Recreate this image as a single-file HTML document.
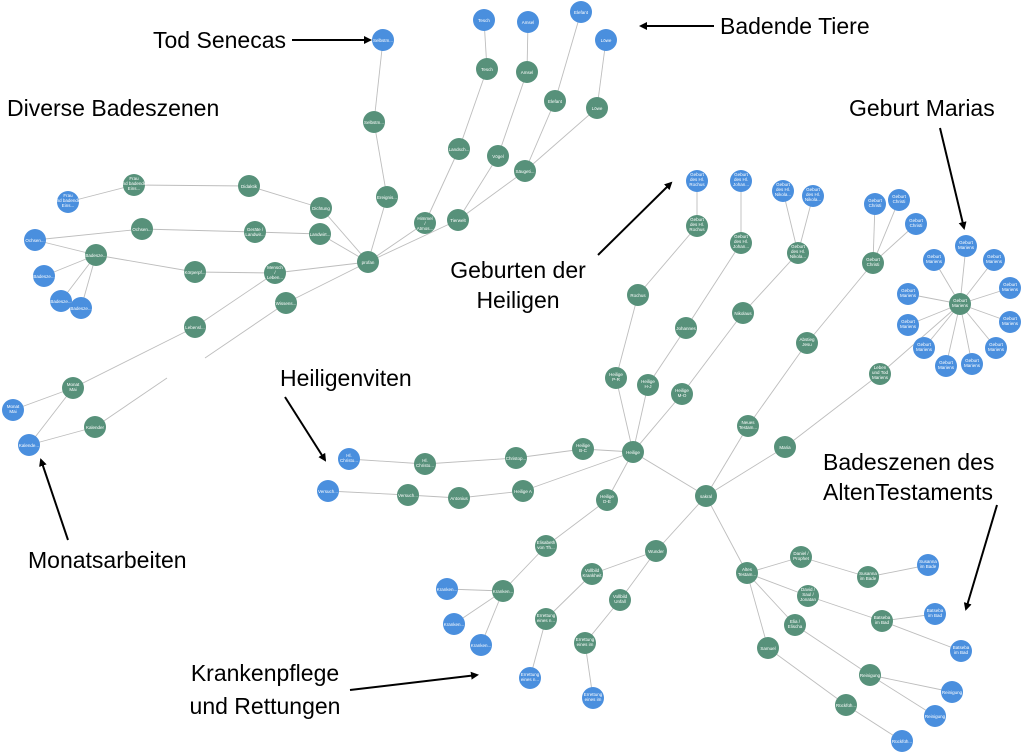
<!DOCTYPE html>
<html><head><meta charset="utf-8"><style>
html,body{margin:0;padding:0;background:#fff;width:1024px;height:753px;overflow:hidden}
svg{display:block}
.e line{stroke:#bdbdbd;stroke-width:0.9}
.g{fill:#57917a}.b{fill:#4a8fde}
.n text{font-family:"Liberation Sans",sans-serif;font-size:4.5px;fill:#fff;text-anchor:middle}
.a text{font-family:"Liberation Sans",sans-serif;font-size:23px;fill:#000}
.a line{stroke:#000;stroke-width:2;marker-end:url(#ah)}
</style></head><body>
<svg width="1024" height="753" viewBox="0 0 1024 753" xmlns="http://www.w3.org/2000/svg">
<defs><marker id="ah" markerWidth="8" markerHeight="8" refX="6" refY="4" orient="auto" markerUnits="userSpaceOnUse"><path d="M0,0 L8,4 L0,8 Z" fill="#000"/></marker></defs>
<g class="e">
<line x1="383" y1="40" x2="374" y2="122"/><line x1="374" y1="122" x2="387" y2="197"/><line x1="387" y1="197" x2="368" y2="262"/>
<line x1="484" y1="20" x2="487" y2="69"/><line x1="487" y1="69" x2="459" y2="149"/><line x1="459" y1="149" x2="425" y2="223"/><line x1="425" y1="223" x2="368" y2="262"/>
<line x1="528" y1="22" x2="527" y2="72"/><line x1="527" y1="72" x2="498" y2="156"/><line x1="498" y1="156" x2="458" y2="220"/>
<line x1="581" y1="12" x2="555" y2="101"/><line x1="555" y1="101" x2="525" y2="171"/><line x1="606" y1="40" x2="597" y2="108"/><line x1="597" y1="108" x2="525" y2="171"/>
<line x1="525" y1="171" x2="458" y2="220"/><line x1="458" y1="220" x2="368" y2="262"/>
<line x1="321" y1="208" x2="368" y2="262"/><line x1="320" y1="234" x2="368" y2="262"/><line x1="275" y1="273" x2="368" y2="262"/><line x1="286" y1="303" x2="368" y2="262"/>
<line x1="321" y1="208" x2="249" y2="186"/><line x1="249" y1="186" x2="134" y2="185"/><line x1="134" y1="185" x2="68" y2="202"/>
<line x1="320" y1="234" x2="255" y2="232"/><line x1="255" y1="232" x2="142" y2="229"/><line x1="142" y1="229" x2="35" y2="240"/><line x1="35" y1="240" x2="96" y2="255"/>
<line x1="96" y1="255" x2="195" y2="272"/><line x1="195" y1="272" x2="275" y2="273"/>
<line x1="96" y1="255" x2="44" y2="276"/><line x1="96" y1="255" x2="61" y2="301"/><line x1="96" y1="255" x2="81" y2="308"/>
<line x1="275" y1="273" x2="195" y2="327"/><line x1="195" y1="327" x2="73" y2="388"/><line x1="73" y1="388" x2="13" y2="410"/><line x1="73" y1="388" x2="29" y2="445"/>
<line x1="29" y1="445" x2="95" y2="427"/><line x1="95" y1="427" x2="167" y2="378"/><line x1="286" y1="303" x2="205" y2="358"/>
<line x1="349" y1="459" x2="425" y2="464"/><line x1="425" y1="464" x2="516" y2="458"/><line x1="516" y1="458" x2="583" y2="449"/><line x1="583" y1="449" x2="633" y2="452"/>
<line x1="328" y1="491" x2="408" y2="495"/><line x1="408" y1="495" x2="459" y2="498"/><line x1="459" y1="498" x2="523" y2="491"/><line x1="523" y1="491" x2="633" y2="452"/>
<line x1="607" y1="500" x2="633" y2="452"/><line x1="616" y1="378" x2="633" y2="452"/><line x1="648" y1="385" x2="633" y2="452"/><line x1="682" y1="394" x2="633" y2="452"/>
<line x1="633" y1="452" x2="706" y2="496"/>
<line x1="616" y1="378" x2="638" y2="295"/><line x1="638" y1="295" x2="697" y2="226"/><line x1="697" y1="226" x2="697" y2="181"/>
<line x1="648" y1="385" x2="686" y2="328"/><line x1="686" y1="328" x2="741" y2="243"/><line x1="741" y1="243" x2="741" y2="181"/>
<line x1="682" y1="394" x2="743" y2="313"/><line x1="743" y1="313" x2="798" y2="253"/><line x1="798" y1="253" x2="783" y2="191"/><line x1="798" y1="253" x2="813" y2="196"/>
<line x1="706" y1="496" x2="748" y2="426"/><line x1="748" y1="426" x2="807" y2="343"/><line x1="807" y1="343" x2="873" y2="263"/><line x1="873" y1="263" x2="875" y2="204"/><line x1="873" y1="263" x2="899" y2="200"/><line x1="873" y1="263" x2="916" y2="224"/>
<line x1="706" y1="496" x2="785" y2="447"/><line x1="785" y1="447" x2="880" y2="374"/><line x1="880" y1="374" x2="960" y2="304"/>
<line x1="960" y1="304" x2="966" y2="246"/><line x1="960" y1="304" x2="994" y2="260"/><line x1="960" y1="304" x2="1010" y2="288"/><line x1="960" y1="304" x2="1010" y2="322"/><line x1="960" y1="304" x2="996" y2="348"/><line x1="960" y1="304" x2="972" y2="364"/><line x1="960" y1="304" x2="946" y2="366"/><line x1="960" y1="304" x2="924" y2="348"/><line x1="960" y1="304" x2="908" y2="325"/><line x1="960" y1="304" x2="908" y2="294"/><line x1="960" y1="304" x2="934" y2="260"/>
<line x1="607" y1="500" x2="546" y2="546"/><line x1="546" y1="546" x2="503" y2="591"/><line x1="503" y1="591" x2="447" y2="589"/><line x1="503" y1="591" x2="454" y2="624"/><line x1="503" y1="591" x2="481" y2="645"/>
<line x1="706" y1="496" x2="656" y2="551"/><line x1="656" y1="551" x2="592" y2="574"/><line x1="592" y1="574" x2="546" y2="619"/><line x1="546" y1="619" x2="530" y2="678"/>
<line x1="656" y1="551" x2="620" y2="600"/><line x1="620" y1="600" x2="585" y2="643"/><line x1="585" y1="643" x2="593" y2="698"/>
<line x1="706" y1="496" x2="747" y2="573"/>
<line x1="747" y1="573" x2="801" y2="557"/><line x1="801" y1="557" x2="868" y2="577"/><line x1="868" y1="577" x2="928" y2="565"/>
<line x1="747" y1="573" x2="808" y2="596"/><line x1="808" y1="596" x2="882" y2="621"/><line x1="882" y1="621" x2="935" y2="614"/><line x1="882" y1="621" x2="961" y2="651"/>
<line x1="747" y1="573" x2="795" y2="625"/><line x1="795" y1="625" x2="870" y2="675"/><line x1="870" y1="675" x2="952" y2="692"/><line x1="870" y1="675" x2="935" y2="716"/>
<line x1="747" y1="573" x2="768" y2="648"/><line x1="768" y1="648" x2="846" y2="705"/><line x1="846" y1="705" x2="902" y2="741"/>
</g>
<g class="n">
<circle class="b" cx="383" cy="40" r="11"/><text x="383" y="42">Selbstm...</text>
<circle class="g" cx="374" cy="122" r="11"/><text x="374" y="124">Selbstm...</text>
<circle class="g" cx="387" cy="197" r="11"/><text x="387" y="199">Ereignis...</text>
<circle class="b" cx="484" cy="20" r="11"/><text x="484" y="22">Tesch</text>
<circle class="g" cx="487" cy="69" r="11"/><text x="487" y="71">Tesch</text>
<circle class="b" cx="528" cy="22" r="11"/><text x="528" y="24">Amsel</text>
<circle class="g" cx="527" cy="72" r="11"/><text x="527" y="74">Amsel</text>
<circle class="b" cx="581" cy="12" r="11"/><text x="581" y="14">Elefant</text>
<circle class="g" cx="555" cy="101" r="11"/><text x="555" y="103">Elefant</text>
<circle class="b" cx="606" cy="40" r="11"/><text x="606" y="42">Löwe</text>
<circle class="g" cx="597" cy="108" r="11"/><text x="597" y="110">Löwe</text>
<circle class="g" cx="459" cy="149" r="11"/><text x="459" y="151">Landsch...</text>
<circle class="g" cx="498" cy="156" r="11"/><text x="498" y="158">Vögel</text>
<circle class="g" cx="525" cy="171" r="11"/><text x="525" y="173">Säugeti...</text>
<circle class="g" cx="458" cy="220" r="11"/><text x="458" y="222">Tierwelt</text>
<circle class="g" cx="425" cy="223" r="11"/><text x="425" y="220">Himmel</text><text x="425" y="225">/</text><text x="425" y="230">Atmos...</text>
<circle class="g" cx="368" cy="262" r="11"/><text x="368" y="264">profan</text>
<circle class="g" cx="321" cy="208" r="11"/><text x="321" y="210">Dichtung</text>
<circle class="g" cx="320" cy="234" r="11"/><text x="320" y="236">Landwirt...</text>
<circle class="g" cx="249" cy="186" r="11"/><text x="249" y="188">Didaktik</text>
<circle class="g" cx="134" cy="185" r="11"/><text x="134" y="180">Frau</text><text x="134" y="185">und badender</text><text x="134" y="190">Eins...</text>
<circle class="b" cx="68" cy="202" r="11"/><text x="68" y="197">Frau</text><text x="68" y="202">und badender</text><text x="68" y="207">Eins...</text>
<circle class="g" cx="142" cy="229" r="11"/><text x="142" y="231">Ochsen...</text>
<circle class="g" cx="255" cy="232" r="11"/><text x="255" y="231">Geräte /</text><text x="255" y="236">Landwir...</text>
<circle class="b" cx="35" cy="240" r="11"/><text x="35" y="242">Ochsen...</text>
<circle class="g" cx="96" cy="255" r="11"/><text x="96" y="257">Badesze...</text>
<circle class="b" cx="44" cy="276" r="11"/><text x="44" y="278">Badesze...</text>
<circle class="b" cx="61" cy="301" r="11"/><text x="61" y="303">Badesze...</text>
<circle class="b" cx="81" cy="308" r="11"/><text x="81" y="310">Badesze...</text>
<circle class="g" cx="195" cy="272" r="11"/><text x="195" y="274">Körperpf...</text>
<circle class="g" cx="275" cy="273" r="11"/><text x="275" y="269">Mensch</text><text x="275" y="274">/</text><text x="275" y="279">Leben...</text>
<circle class="g" cx="286" cy="303" r="11"/><text x="286" y="305">Wissens...</text>
<circle class="g" cx="195" cy="327" r="11"/><text x="195" y="329">Lebensl...</text>
<circle class="g" cx="73" cy="388" r="11"/><text x="73" y="386">Monat</text><text x="73" y="391">Mai</text>
<circle class="b" cx="13" cy="410" r="11"/><text x="13" y="408">Monat</text><text x="13" y="413">Mai</text>
<circle class="b" cx="29" cy="445" r="11"/><text x="29" y="447">Kalende...</text>
<circle class="g" cx="95" cy="427" r="11"/><text x="95" y="429">Kalender</text>
<circle class="b" cx="349" cy="459" r="11"/><text x="349" y="457">Hl.</text><text x="349" y="462">Christo...</text>
<circle class="g" cx="425" cy="464" r="11"/><text x="425" y="462">Hl.</text><text x="425" y="467">Christo...</text>
<circle class="g" cx="516" cy="458" r="11"/><text x="516" y="460">Christop...</text>
<circle class="g" cx="583" cy="449" r="11"/><text x="583" y="447">Heilige</text><text x="583" y="452">B-C</text>
<circle class="g" cx="633" cy="452" r="11"/><text x="633" y="454">Heilige</text>
<circle class="b" cx="328" cy="491" r="11"/><text x="328" y="493">Versuch...</text>
<circle class="g" cx="408" cy="495" r="11"/><text x="408" y="497">Versuch...</text>
<circle class="g" cx="459" cy="498" r="11"/><text x="459" y="500">Antonius</text>
<circle class="g" cx="523" cy="491" r="11"/><text x="523" y="493">Heilige A</text>
<circle class="g" cx="607" cy="500" r="11"/><text x="607" y="498">Heilige</text><text x="607" y="503">D-E</text>
<circle class="g" cx="616" cy="378" r="11"/><text x="616" y="376">Heilige</text><text x="616" y="381">P-R</text>
<circle class="g" cx="648" cy="385" r="11"/><text x="648" y="383">Heilige</text><text x="648" y="388">H-J</text>
<circle class="g" cx="682" cy="394" r="11"/><text x="682" y="392">Heilige</text><text x="682" y="397">M-O</text>
<circle class="g" cx="638" cy="295" r="11"/><text x="638" y="297">Rochus</text>
<circle class="g" cx="686" cy="328" r="11"/><text x="686" y="330">Johannes</text>
<circle class="g" cx="697" cy="226" r="11"/><text x="697" y="221">Geburt</text><text x="697" y="226">des Hl.</text><text x="697" y="231">Rochus</text>
<circle class="b" cx="697" cy="181" r="11"/><text x="697" y="176">Geburt</text><text x="697" y="181">des Hl.</text><text x="697" y="186">Rochus</text>
<circle class="b" cx="741" cy="181" r="11"/><text x="741" y="176">Geburt</text><text x="741" y="181">des Hl.</text><text x="741" y="186">Johan...</text>
<circle class="g" cx="741" cy="243" r="11"/><text x="741" y="238">Geburt</text><text x="741" y="243">des Hl.</text><text x="741" y="248">Johan...</text>
<circle class="g" cx="743" cy="313" r="11"/><text x="743" y="315">Nikolaus</text>
<circle class="b" cx="783" cy="191" r="11"/><text x="783" y="186">Geburt</text><text x="783" y="191">des Hl.</text><text x="783" y="196">Nikola...</text>
<circle class="b" cx="813" cy="196" r="11"/><text x="813" y="191">Geburt</text><text x="813" y="196">des Hl.</text><text x="813" y="201">Nikola...</text>
<circle class="g" cx="798" cy="253" r="11"/><text x="798" y="248">Geburt</text><text x="798" y="253">des Hl.</text><text x="798" y="258">Nikola...</text>
<circle class="b" cx="875" cy="204" r="11"/><text x="875" y="202">Geburt</text><text x="875" y="207">Christi</text>
<circle class="b" cx="899" cy="200" r="11"/><text x="899" y="198">Geburt</text><text x="899" y="203">Christi</text>
<circle class="b" cx="916" cy="224" r="11"/><text x="916" y="222">Geburt</text><text x="916" y="227">Christi</text>
<circle class="g" cx="873" cy="263" r="11"/><text x="873" y="261">Geburt</text><text x="873" y="266">Christi</text>
<circle class="g" cx="807" cy="343" r="11"/><text x="807" y="341">Abstieg</text><text x="807" y="346">Jesu</text>
<circle class="g" cx="880" cy="374" r="11"/><text x="880" y="369">Leben</text><text x="880" y="374">und Tod</text><text x="880" y="379">Mariens</text>
<circle class="g" cx="748" cy="426" r="11"/><text x="748" y="424">Neues</text><text x="748" y="429">Testam...</text>
<circle class="g" cx="785" cy="447" r="11"/><text x="785" y="449">Maria</text>
<circle class="g" cx="706" cy="496" r="11"/><text x="706" y="498">sakral</text>
<circle class="b" cx="966" cy="246" r="11"/><text x="966" y="244">Geburt</text><text x="966" y="249">Mariens</text>
<circle class="b" cx="994" cy="260" r="11"/><text x="994" y="258">Geburt</text><text x="994" y="263">Mariens</text>
<circle class="b" cx="1010" cy="288" r="11"/><text x="1010" y="286">Geburt</text><text x="1010" y="291">Mariens</text>
<circle class="b" cx="1010" cy="322" r="11"/><text x="1010" y="320">Geburt</text><text x="1010" y="325">Mariens</text>
<circle class="b" cx="996" cy="348" r="11"/><text x="996" y="346">Geburt</text><text x="996" y="351">Mariens</text>
<circle class="b" cx="972" cy="364" r="11"/><text x="972" y="362">Geburt</text><text x="972" y="367">Mariens</text>
<circle class="b" cx="946" cy="366" r="11"/><text x="946" y="364">Geburt</text><text x="946" y="369">Mariens</text>
<circle class="b" cx="924" cy="348" r="11"/><text x="924" y="346">Geburt</text><text x="924" y="351">Mariens</text>
<circle class="b" cx="908" cy="325" r="11"/><text x="908" y="323">Geburt</text><text x="908" y="328">Mariens</text>
<circle class="b" cx="908" cy="294" r="11"/><text x="908" y="292">Geburt</text><text x="908" y="297">Mariens</text>
<circle class="b" cx="934" cy="260" r="11"/><text x="934" y="258">Geburt</text><text x="934" y="263">Mariens</text>
<circle class="g" cx="960" cy="304" r="11"/><text x="960" y="302">Geburt</text><text x="960" y="307">Mariens</text>
<circle class="g" cx="546" cy="546" r="11"/><text x="546" y="544">Elisabeth</text><text x="546" y="549">von Th...</text>
<circle class="g" cx="656" cy="551" r="11"/><text x="656" y="553">Wunder</text>
<circle class="g" cx="592" cy="574" r="11"/><text x="592" y="572">Vollbild</text><text x="592" y="577">Krankheit</text>
<circle class="g" cx="620" cy="600" r="11"/><text x="620" y="598">Vollbild</text><text x="620" y="603">Unfall</text>
<circle class="g" cx="546" cy="619" r="11"/><text x="546" y="617">Errettung</text><text x="546" y="622">eines n...</text>
<circle class="g" cx="585" cy="643" r="11"/><text x="585" y="641">Errettung</text><text x="585" y="646">eines im</text>
<circle class="b" cx="530" cy="678" r="11"/><text x="530" y="676">Errettung</text><text x="530" y="681">eines n...</text>
<circle class="b" cx="593" cy="698" r="11"/><text x="593" y="696">Errettung</text><text x="593" y="701">eines im</text>
<circle class="g" cx="503" cy="591" r="11"/><text x="503" y="593">Kranken...</text>
<circle class="b" cx="447" cy="589" r="11"/><text x="447" y="591">Kranken...</text>
<circle class="b" cx="454" cy="624" r="11"/><text x="454" y="626">Kranken...</text>
<circle class="b" cx="481" cy="645" r="11"/><text x="481" y="647">Kranken...</text>
<circle class="g" cx="747" cy="573" r="11"/><text x="747" y="571">Altes</text><text x="747" y="576">Testam...</text>
<circle class="g" cx="801" cy="557" r="11"/><text x="801" y="555">Daniel /</text><text x="801" y="560">Prophet</text>
<circle class="g" cx="868" cy="577" r="11"/><text x="868" y="575">Susanna</text><text x="868" y="580">im Bade</text>
<circle class="b" cx="928" cy="565" r="11"/><text x="928" y="563">Susanna</text><text x="928" y="568">im Bade</text>
<circle class="g" cx="808" cy="596" r="11"/><text x="808" y="591">David /</text><text x="808" y="596">Saul /</text><text x="808" y="601">Jonatan</text>
<circle class="g" cx="882" cy="621" r="11"/><text x="882" y="619">Batseba</text><text x="882" y="624">im Bad</text>
<circle class="b" cx="935" cy="614" r="11"/><text x="935" y="612">Batseba</text><text x="935" y="617">im Bad</text>
<circle class="b" cx="961" cy="651" r="11"/><text x="961" y="649">Batseba</text><text x="961" y="654">im Bad</text>
<circle class="g" cx="795" cy="625" r="11"/><text x="795" y="623">Elia /</text><text x="795" y="628">Elischa</text>
<circle class="g" cx="768" cy="648" r="11"/><text x="768" y="650">Samuel</text>
<circle class="g" cx="870" cy="675" r="11"/><text x="870" y="677">Reinigung</text>
<circle class="b" cx="952" cy="692" r="11"/><text x="952" y="694">Reinigung</text>
<circle class="b" cx="935" cy="716" r="11"/><text x="935" y="718">Reinigung</text>
<circle class="g" cx="846" cy="705" r="11"/><text x="846" y="707">Rückfüh...</text>
<circle class="b" cx="902" cy="741" r="11"/><text x="902" y="743">Rückfüh...</text>
</g>
<g class="a">
<text x="153" y="48">Tod Senecas</text><line x1="292" y1="40" x2="370" y2="40"/>
<text x="720" y="34">Badende Tiere</text><line x1="714" y1="26" x2="641" y2="26"/>
<text x="7" y="116">Diverse Badeszenen</text>
<text x="849" y="116">Geburt Marias</text><line x1="940" y1="128" x2="964" y2="228"/>
<text x="518" y="278" text-anchor="middle">Geburten der</text><text x="518" y="308" text-anchor="middle">Heiligen</text><line x1="598" y1="255" x2="671" y2="183"/>
<text x="280" y="386">Heiligenviten</text><line x1="285" y1="397" x2="325" y2="460"/>
<text x="823" y="470">Badeszenen des</text><text x="823" y="500">AltenTestaments</text><line x1="997" y1="505" x2="966" y2="609"/>
<text x="28" y="568">Monatsarbeiten</text><line x1="68" y1="540" x2="41" y2="460"/>
<text x="265" y="681" text-anchor="middle">Krankenpflege</text><text x="265" y="714" text-anchor="middle">und Rettungen</text><line x1="350" y1="690" x2="477" y2="675"/>
</g>
</svg>
</body></html>
